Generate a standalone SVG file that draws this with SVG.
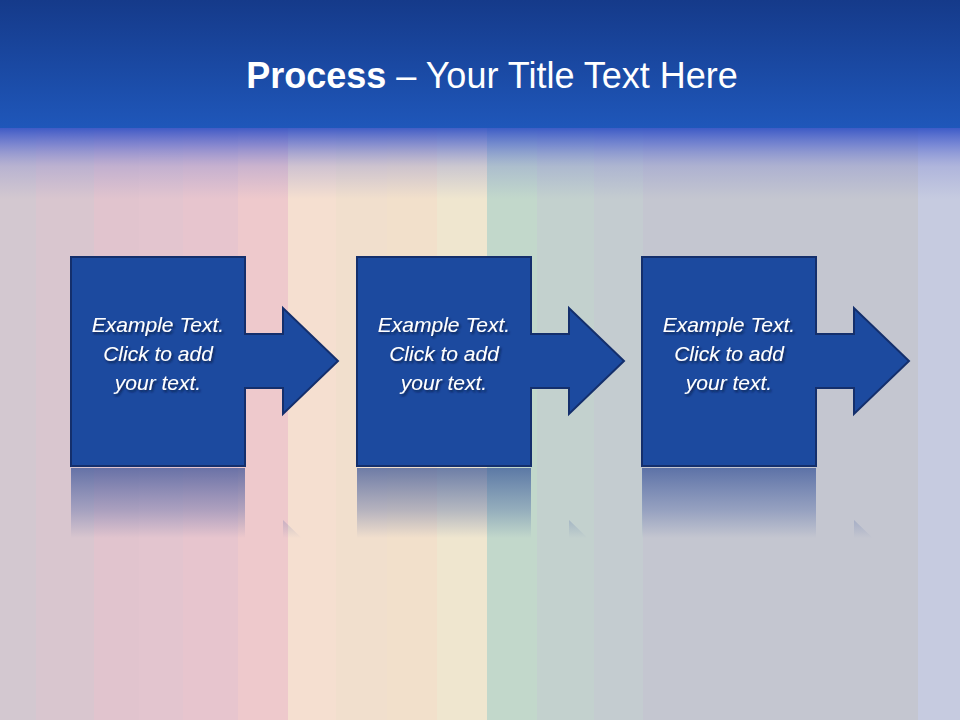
<svg xmlns="http://www.w3.org/2000/svg" width="960" height="720" viewBox="0 0 960 720">
  <defs>
    <linearGradient id="hdr" x1="0" y1="0" x2="0" y2="1">
      <stop offset="0" stop-color="#153a8a"/>
      <stop offset="1" stop-color="#1f57ba"/>
    </linearGradient>
    <linearGradient id="fade" x1="0" y1="0" x2="0" y2="1">
      <stop offset="0" stop-color="#2a4cc4" stop-opacity="0.9"/>
      <stop offset="0.25" stop-color="#4a60cf" stop-opacity="0.62"/>
      <stop offset="0.55" stop-color="#7a82d2" stop-opacity="0.3"/>
      <stop offset="1" stop-color="#8088d0" stop-opacity="0"/>
    </linearGradient>
    <linearGradient id="refl" gradientUnits="userSpaceOnUse" x1="0" y1="211" x2="0" y2="281">
      <stop offset="0" stop-color="#1e3f8e" stop-opacity="0.62"/>
      <stop offset="0.6" stop-color="#2a4a9a" stop-opacity="0.3"/>
      <stop offset="1" stop-color="#2a4a9a" stop-opacity="0"/>
    </linearGradient>
    <filter id="tshadow" x="-10%" y="-30%" width="130%" height="170%">
      <feDropShadow dx="1.5" dy="2" stdDeviation="1.2" flood-color="#0a1a40" flood-opacity="0.8"/>
    </filter>
    <path id="shape" d="M0,0 H174 V77 H212 V51 L267,104 L212,157 V131 H174 V209 H0 Z"/>
    <path id="rshape" d="M0,211 H174 V289 H212 V263 L267,316 L212,369 V343 H174 V420 H0 Z"/>
  </defs>
  <style>
    .node { fill: #1c4a9f; stroke: #142f6c; stroke-width: 2; stroke-linejoin: miter; }
    .refl { fill: url(#refl); }
    .lbl { font-family: "Liberation Sans", Arial, sans-serif; font-style: italic; font-size: 21px; fill: #ffffff; text-anchor: middle; filter: url(#tshadow); }
    .title { font-family: "Liberation Sans", Arial, sans-serif; font-size: 36px; fill: #ffffff; text-anchor: middle; }
  </style>

  <g id="background">
    <rect x="0" y="0" width="960" height="720" fill="#d3c8d0"/>
    <rect x="36" y="0" width="58" height="720" fill="#d9c6cf"/>
    <rect x="94" y="0" width="45" height="720" fill="#e1c4ce"/>
    <rect x="139" y="0" width="44" height="720" fill="#e3c5cf"/>
    <rect x="183" y="0" width="55" height="720" fill="#e7c5ce"/>
    <rect x="238" y="0" width="50" height="720" fill="#eec9cc"/>
    <rect x="288" y="0" width="48" height="720" fill="#f5dfd0"/>
    <rect x="336" y="0" width="51" height="720" fill="#f1dfcd"/>
    <rect x="387" y="0" width="50" height="720" fill="#f2e0cb"/>
    <rect x="437" y="0" width="50" height="720" fill="#efe6cf"/>
    <rect x="487" y="0" width="50" height="720" fill="#c2d8cb"/>
    <rect x="537" y="0" width="57" height="720" fill="#c3d1ce"/>
    <rect x="594" y="0" width="49" height="720" fill="#c4ccd0"/>
    <rect x="643" y="0" width="275" height="720" fill="#c4c6d0"/>
    <rect x="918" y="0" width="42" height="720" fill="#c6cbe0"/>
    <rect x="0" y="127" width="960" height="72" fill="url(#fade)"/>
    <rect x="0" y="0" width="960" height="128" fill="url(#hdr)"/>
  </g>

  <g id="title">
    <text class="title" x="492" y="88"><tspan font-weight="bold">Process</tspan> – Your Title Text Here</text>
  </g>

  <g id="node1" transform="translate(71,257)">
    <use href="#rshape" class="refl"/>
    <use href="#shape" class="node"/>
    <text class="lbl" x="87" y="75">Example Text.</text>
    <text class="lbl" x="87" y="104">Click to add</text>
    <text class="lbl" x="87" y="133">your text.</text>
  </g>

  <g id="node2" transform="translate(357,257)">
    <use href="#rshape" class="refl"/>
    <use href="#shape" class="node"/>
    <text class="lbl" x="87" y="75">Example Text.</text>
    <text class="lbl" x="87" y="104">Click to add</text>
    <text class="lbl" x="87" y="133">your text.</text>
  </g>

  <g id="node3" transform="translate(642,257)">
    <use href="#rshape" class="refl"/>
    <use href="#shape" class="node"/>
    <text class="lbl" x="87" y="75">Example Text.</text>
    <text class="lbl" x="87" y="104">Click to add</text>
    <text class="lbl" x="87" y="133">your text.</text>
  </g>

  <g id="connectors"></g>
</svg>
